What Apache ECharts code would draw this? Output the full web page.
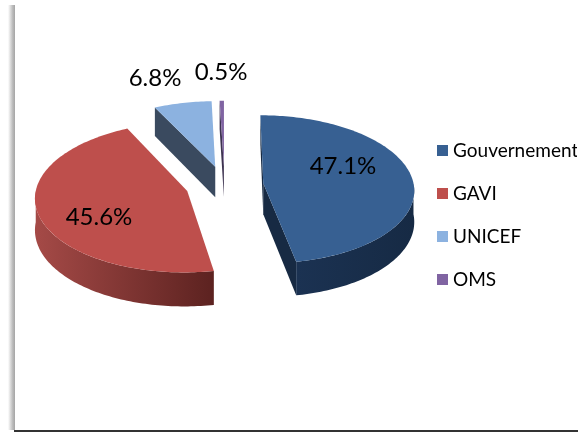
<!DOCTYPE html>
<html>
<head>
<meta charset="utf-8">
<title>Financement</title>
<script src="https://cdn.jsdelivr.net/npm/echarts@6/dist/echarts.min.js"></script>
<style>
    html, body { margin: 0; padding: 0; background: #fff; }
    #chart { width: 586px; height: 432px; }
</style>
</head>
<body>
<div id="chart"></div>
<script>
// Donnees
const categories = ['Gouvernement', 'GAVI', 'UNICEF', 'OMS'];
const values = [47.1, 45.6, 6.8, 0.5];

// Couleurs
const topColors = ['#376092', '#be4f4c', '#8cb2e0', '#8064a2'];
const rimColors = [['#162a44', '#1b3252'], ['#5c2220', '#a54a47'], ['#3a4a5f', '#3a4a5f'], ['#4a3a60', '#4a3a60']];
const faceColors = ['#172a43', '#6b2a28', '#3a4a5f', '#3d3350'];

// Geometrie du camembert 3D
const center = [224.5, 185];
const radius = 150.5;
const tilt = 0.49;
const perspective = 0.081;
const depth = 31;
const explode = 39;
const labelPos = [[343, 166], [99, 217], [155, 78], [221, 72]];
const fontName = 'Lato, "Open Sans", sans-serif';

const total = values.reduce((a, b) => a + b, 0);

function startAngle(i) {
    let sum = 0;
    for (let k = 0; k < i; k++) sum += values[k];
    return sum / total * Math.PI * 2;
}

// Projette un point du plan du camembert vers l'ecran
function project(x, y, z) {
    const s = 1 / (1 + perspective * y / radius);
    return [center[0] + x * s, center[1] - y * tilt * s + z * s];
}

function renderSlice(i, api) {
    const a0 = startAngle(i);
    const a1 = a0 + api.value(0) / total * Math.PI * 2;
    const mid = (a0 + a1) / 2;
    const ox = explode * Math.sin(mid);
    const oy = explode * Math.cos(mid);
    const rimPoint = (a, z) => project(ox + radius * Math.sin(a), oy + radius * Math.cos(a), z);
    const apex = z => project(ox, oy, z);

    const arc = (from, to, z) => {
        const pts = [];
        const n = Math.max(2, Math.ceil((to - from) / 0.02));
        for (let k = 0; k <= n; k++) pts.push(rimPoint(from + (to - from) * k / n, z));
        return pts;
    };

    const children = [];
    const radial = a => ({
        type: 'polygon',
        shape: { points: [apex(0), rimPoint(a, 0), rimPoint(a, depth), apex(depth)] },
        style: { fill: faceColors[i] }
    });

    // Faces radiales visibles
    if (Math.sin(a0) <= 1e-9) children.push(radial(a0));
    if (Math.sin(a1) > 1e-9) children.push(radial(a1));

    // Bord exterieur, seulement la partie avant
    const from = Math.max(a0, Math.PI / 2);
    const to = Math.min(a1, Math.PI * 1.5);
    if (to > from) {
        const upper = arc(from, to, 0);
        const lower = arc(from, to, depth).reverse();
        const xs = upper.map(p => p[0]);
        const minX = Math.min(...xs);
        const maxX = Math.max(...xs);
        children.push({
            type: 'polygon',
            shape: { points: upper.concat(lower) },
            style: {
                fill: new echarts.graphic.LinearGradient(minX, 0, maxX, 0, [
                    { offset: 0, color: rimColors[i][1] },
                    { offset: 1, color: rimColors[i][0] }
                ], true)
            }
        });
    }

    // Dessus
    children.push({
        type: 'polygon',
        shape: { points: [apex(0)].concat(arc(a0, a1, 0)) },
        style: { fill: topColors[i] }
    });

    // Etiquette
    children.push({
        type: 'text',
        z2: 10,
        style: {
            x: labelPos[i][0],
            y: labelPos[i][1],
            text: api.value(0).toFixed(1) + '%',
            fill: '#000',
            font: '24px ' + fontName,
            align: 'center',
            verticalAlign: 'middle'
        }
    });

    return { type: 'group', children: children };
}

const chart = echarts.init(document.getElementById('chart'));

// On dessine de l'arriere vers l'avant, la legende garde l'ordre des categories
const series = categories.map((name, i) => ({
    name: name,
    type: 'custom',
    coordinateSystem: 'none',
    silent: true,
    z: 4 - i,
    itemStyle: { color: topColors[i] },
    data: [[values[i]]],
    renderItem: (params, api) => renderSlice(i, api)
}));

chart.setOption({
    animation: false,
    backgroundColor: '#fff',
    legend: {
        orient: 'vertical',
        left: 437,
        top: 141,
        padding: 0,
        itemWidth: 11,
        itemHeight: 11,
        itemGap: 24,
        icon: 'rect',
        selectedMode: false,
        textStyle: { fontFamily: fontName, fontSize: 19, color: '#000' },
        data: categories
    },
    series: series,
    graphic: [
        // Cache la fin du texte coupe a droite, comme dans l'original
        { type: 'rect', z: 100, shape: { x: 577, y: 130, width: 9, height: 40 }, style: { fill: '#fff' } },
        // Cadre : ombre a gauche et trait en bas
        {
            type: 'rect',
            z: 100,
            shape: { x: 8, y: 5, width: 7, height: 425 },
            style: {
                fill: new echarts.graphic.LinearGradient(0, 0, 1, 0, [
                    { offset: 0, color: '#ffffff' },
                    { offset: 0.65, color: '#bdbdbd' },
                    { offset: 0.95, color: '#a8a8a8' },
                    { offset: 1, color: '#ffffff' }
                ])
            }
        },
        { type: 'rect', z: 100, shape: { x: 14, y: 430, width: 564, height: 2 }, style: { fill: '#333' } }
    ]
});

window.addEventListener('resize', function() {
    chart.resize();
});
</script>
</body>
</html>
